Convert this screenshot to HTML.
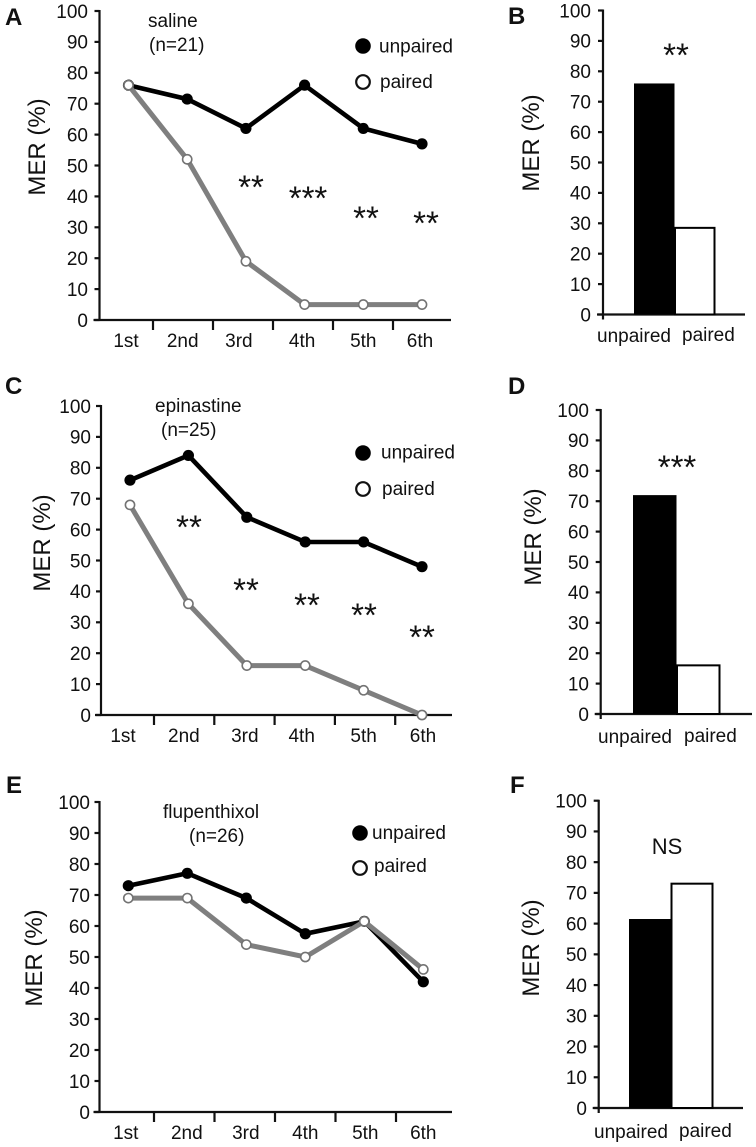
<!DOCTYPE html>
<html lang="en">
<head>
<meta charset="utf-8">
<title>MER panels</title>
<style>
html,body{margin:0;padding:0;background:#fff;width:756px;height:1147px;overflow:hidden}
svg{display:block}
text{font-family:"Liberation Sans",Arial,sans-serif;fill:#111}
</style>
</head>
<body>
<svg id="figure" width="756" height="1147" viewBox="0 0 756 1147" xmlns="http://www.w3.org/2000/svg"></svg>
<script>
// ---- Data ----
const trialLabels = ['1st', '2nd', '3rd', '4th', '5th', '6th'];
const yTickValues = [0, 10, 20, 30, 40, 50, 60, 70, 80, 90, 100];
const barLabels = ['unpaired', 'paired'];

const salineUnpaired = [76, 71.5, 62, 76, 62, 57];
const salinePaired = [76, 52, 19, 5, 5, 5];
const epinastineUnpaired = [76, 84, 64, 56, 56, 48];
const epinastinePaired = [68, 36, 16, 16, 8, 0];
const flupenthixolUnpaired = [73, 77, 69, 57.5, 61.5, 42];
const flupenthixolPaired = [69, 69, 54, 50, 61.5, 46];

const salineBars = [76, 28.5];
const epinastineBars = [72, 16];
const flupenthixolBars = [61.5, 73];

// ---- Drawing ----
const NS = 'http://www.w3.org/2000/svg';
const root = document.getElementById('figure');
const FONT = 19;

function add(parent, tag, name, props, content) {
  const el = document.createElementNS(NS, tag);
  
  
  Object.keys(props).forEach(k => el.setAttribute(k, props[k]));
  if (content !== undefined) el.textContent = content;
  parent.appendChild(el);
  return el;
}

function label(parent, name, x, y, str, size, extra) {
  return add(parent, 'text', name, Object.assign({ x: x, y: y, 'font-size': size || FONT }, extra || {}), str);
}

function stars(parent, x, cy, str) {
  // Places the asterisk glyph centres at cy
  label(parent, 'significance-stars', x, cy + 14.5, str, 33, { 'text-anchor': 'middle' });
}

function frame(g, p) {
  const y = v => p.y0 + (p.y100 - p.y0) * v / 100;
  const axisStyle = { stroke: '#111', 'stroke-width': 2.2, fill: 'none' };
  add(g, 'line', 'y-axis', Object.assign({ x1: p.axisX, x2: p.axisX, y1: y(100) - 1, y2: p.y0 + p.stub }, axisStyle));
  add(g, 'line', 'x-axis', Object.assign({ x1: p.axisX - 6, x2: p.axisRight, y1: p.y0, y2: p.y0 }, axisStyle));
  yTickValues.forEach(v => {
    add(g, 'line', 'y-tick', Object.assign({ x1: p.axisX - 5, x2: p.axisX, y1: y(v), y2: y(v) }, axisStyle));
    label(g, 'y-tick-label', p.yLabelRight, y(v) + 6.8, String(v), FONT, { 'text-anchor': 'end' });
  });
  add(g, 'text', 'y-axis-title', {
    transform: 'translate(' + p.titleX + ',' + p.titleY + ') rotate(-90)',
    'text-anchor': 'middle', 'font-size': 24
  }, 'MER (%)');
  label(g, 'panel-letter', p.letterX, p.letterY, p.letter, 24, { 'font-weight': 'bold', fill: '#000' });
  return y;
}

function linePanel(p, unpaired, paired) {
  const g = add(root, 'g', 'panel-' + p.letter.toLowerCase(), {});
  const y = frame(g, p);
  const x = i => p.x0 + p.step * i;
  const axisStyle = { stroke: '#111', 'stroke-width': 2.2 };
  for (let i = 0; i < trialLabels.length - 1; i++) {
    const tx = p.tick0 + p.tickStep * i;
    add(g, 'line', 'x-tick', Object.assign({ x1: tx, x2: tx, y1: p.y0, y2: p.y0 + 10 }, axisStyle));
  }
  trialLabels.forEach((t, i) => {
    label(g, 'x-tick-label', x(i) + p.labelNudge[i], p.xLabelY, t, FONT, { 'text-anchor': 'middle' });
  });
  const pts = s => s.map((v, i) => x(i).toFixed(1) + ',' + y(v).toFixed(1)).join(' ');
  const common = { fill: 'none', 'stroke-linejoin': 'miter' };
  add(g, 'polyline', 'unpaired-line', Object.assign({ points: pts(unpaired), stroke: '#000', 'stroke-width': 4.6 }, common));
  unpaired.forEach((v, i) => {
    add(g, 'circle', 'unpaired-point', { cx: x(i), cy: y(v), r: 5.6, fill: '#000' });
  });
  add(g, 'polyline', 'paired-line', Object.assign({ points: pts(paired), stroke: '#7f7f7f', 'stroke-width': 5 }, common));
  paired.forEach((v, i) => {
    add(g, 'circle', 'paired-point', { cx: x(i), cy: y(v), r: 4.6, fill: '#fff', stroke: '#737373', 'stroke-width': 1.6 });
  });
  add(g, 'circle', 'legend-unpaired-marker', { cx: p.legX, cy: p.legY1, r: 7.8, fill: '#000' });
  label(g, 'legend-unpaired', p.legT1, p.legB1, 'unpaired');
  add(g, 'circle', 'legend-paired-marker', { cx: p.legX, cy: p.legY2, r: 6.8, fill: '#fff', stroke: '#111', 'stroke-width': 2.2 });
  label(g, 'legend-paired', p.legT2, p.legB2, 'paired');
  label(g, 'drug-name', p.drugX, p.drugY, p.drug);
  label(g, 'sample-size', p.nX, p.nY, p.n);
  return g;
}

function barPanel(p, values) {
  const g = add(root, 'g', 'panel-' + p.letter.toLowerCase(), {});
  const y = frame(g, p);
  const w = p.barW;
  add(g, 'rect', 'bar-unpaired', { x: p.barX, y: y(values[0]), width: w, height: p.y0 - y(values[0]), fill: '#000' });
  add(g, 'rect', 'bar-paired', {
    x: p.barX + w + 0.5, y: y(values[1]), width: w - 1, height: p.y0 - y(values[1]),
    fill: '#fff', stroke: '#000', 'stroke-width': 2
  });
  label(g, 'bar-label-unpaired', p.lab1X, p.lab1Y, barLabels[0]);
  label(g, 'bar-label-paired', p.lab2X, p.lab2Y, barLabels[1]);
  return g;
}

const gA = linePanel({
  letter: 'A', letterX: 5, letterY: 25, axisX: 99.5, axisRight: 451, y0: 320, y100: 11, stub: 0,
  yLabelRight: 88, titleX: 45, titleY: 147,
  x0: 128.5, step: 58.7, tick0: 153, tickStep: 60, labelNudge: [-2.5, -4.5, -7, -2.5, 0, -2], xLabelY: 347,
  legX: 363, legY1: 46, legY2: 82, legT1: 379, legB1: 52.5, legT2: 380, legB2: 88,
  drug: 'saline', drugX: 148, drugY: 27, n: '(n=21)', nX: 149, nY: 51
}, salineUnpaired, salinePaired);
stars(gA, 251, 184, '**'); stars(gA, 308, 195, '***'); stars(gA, 366, 215, '**'); stars(gA, 426, 220, '**');

const gB = barPanel({
  letter: 'B', letterX: 508, letterY: 24, axisX: 603, axisRight: 745, y0: 314.5, y100: 10.5, stub: 5,
  yLabelRight: 591, titleX: 539, titleY: 143,
  barX: 634, barW: 40.5, lab1X: 597, lab1Y: 342, lab2X: 682, lab2Y: 341
}, salineBars);
stars(gB, 676, 52, '**');

const gC = linePanel({
  letter: 'C', letterX: 5, letterY: 394, axisX: 101, axisRight: 452, y0: 715, y100: 406, stub: 0,
  yLabelRight: 91, titleX: 50, titleY: 543,
  x0: 130, step: 58.4, tick0: 154, tickStep: 60.3, labelNudge: [-7, -4.5, -2, -3.5, 0, 1], xLabelY: 742,
  legX: 363, legY1: 453, legY2: 489, legT1: 381, legB1: 458.5, legT2: 382, legB2: 495,
  drug: 'epinastine', drugX: 155, drugY: 412, n: '(n=25)', nX: 161, nY: 436
}, epinastineUnpaired, epinastinePaired);
stars(gC, 189, 524, '**'); stars(gC, 246, 587, '**'); stars(gC, 307, 602, '**'); stars(gC, 364, 612, '**'); stars(gC, 422, 634, '**');

const gD = barPanel({
  letter: 'D', letterX: 508, letterY: 394, axisX: 600.7, axisRight: 752, y0: 714, y100: 410, stub: 5,
  yLabelRight: 589, titleX: 541, titleY: 537,
  barX: 633, barW: 43.5, lab1X: 598, lab1Y: 743, lab2X: 684, lab2Y: 742
}, epinastineBars);
stars(gD, 677, 464, '***');

const gE = linePanel({
  letter: 'E', letterX: 6, letterY: 793, axisX: 99.5, axisRight: 452, y0: 1112, y100: 802, stub: 0,
  yLabelRight: 90, titleX: 42, titleY: 958,
  x0: 128.3, step: 59, tick0: 154, tickStep: 60.5, labelNudge: [-2.5, -0.5, -0.5, 0, 1, 0], xLabelY: 1139,
  legX: 360, legY1: 833, legY2: 868, legT1: 372, legB1: 839, legT2: 374, legB2: 872,
  drug: 'flupenthixol', drugX: 163, drugY: 818, n: '(n=26)', nX: 189, nY: 842
}, flupenthixolUnpaired, flupenthixolPaired);

const gF = barPanel({
  letter: 'F', letterX: 510, letterY: 793, axisX: 598.7, axisRight: 743, y0: 1108, y100: 800.7, stub: 5,
  yLabelRight: 587, titleX: 539, titleY: 948,
  barX: 629, barW: 42, lab1X: 594, lab1Y: 1138, lab2X: 679, lab2Y: 1137
}, flupenthixolBars);
label(gF, 'significance-ns', 667, 854, 'NS', 22, { 'text-anchor': 'middle' });
</script>
</body>
</html>
